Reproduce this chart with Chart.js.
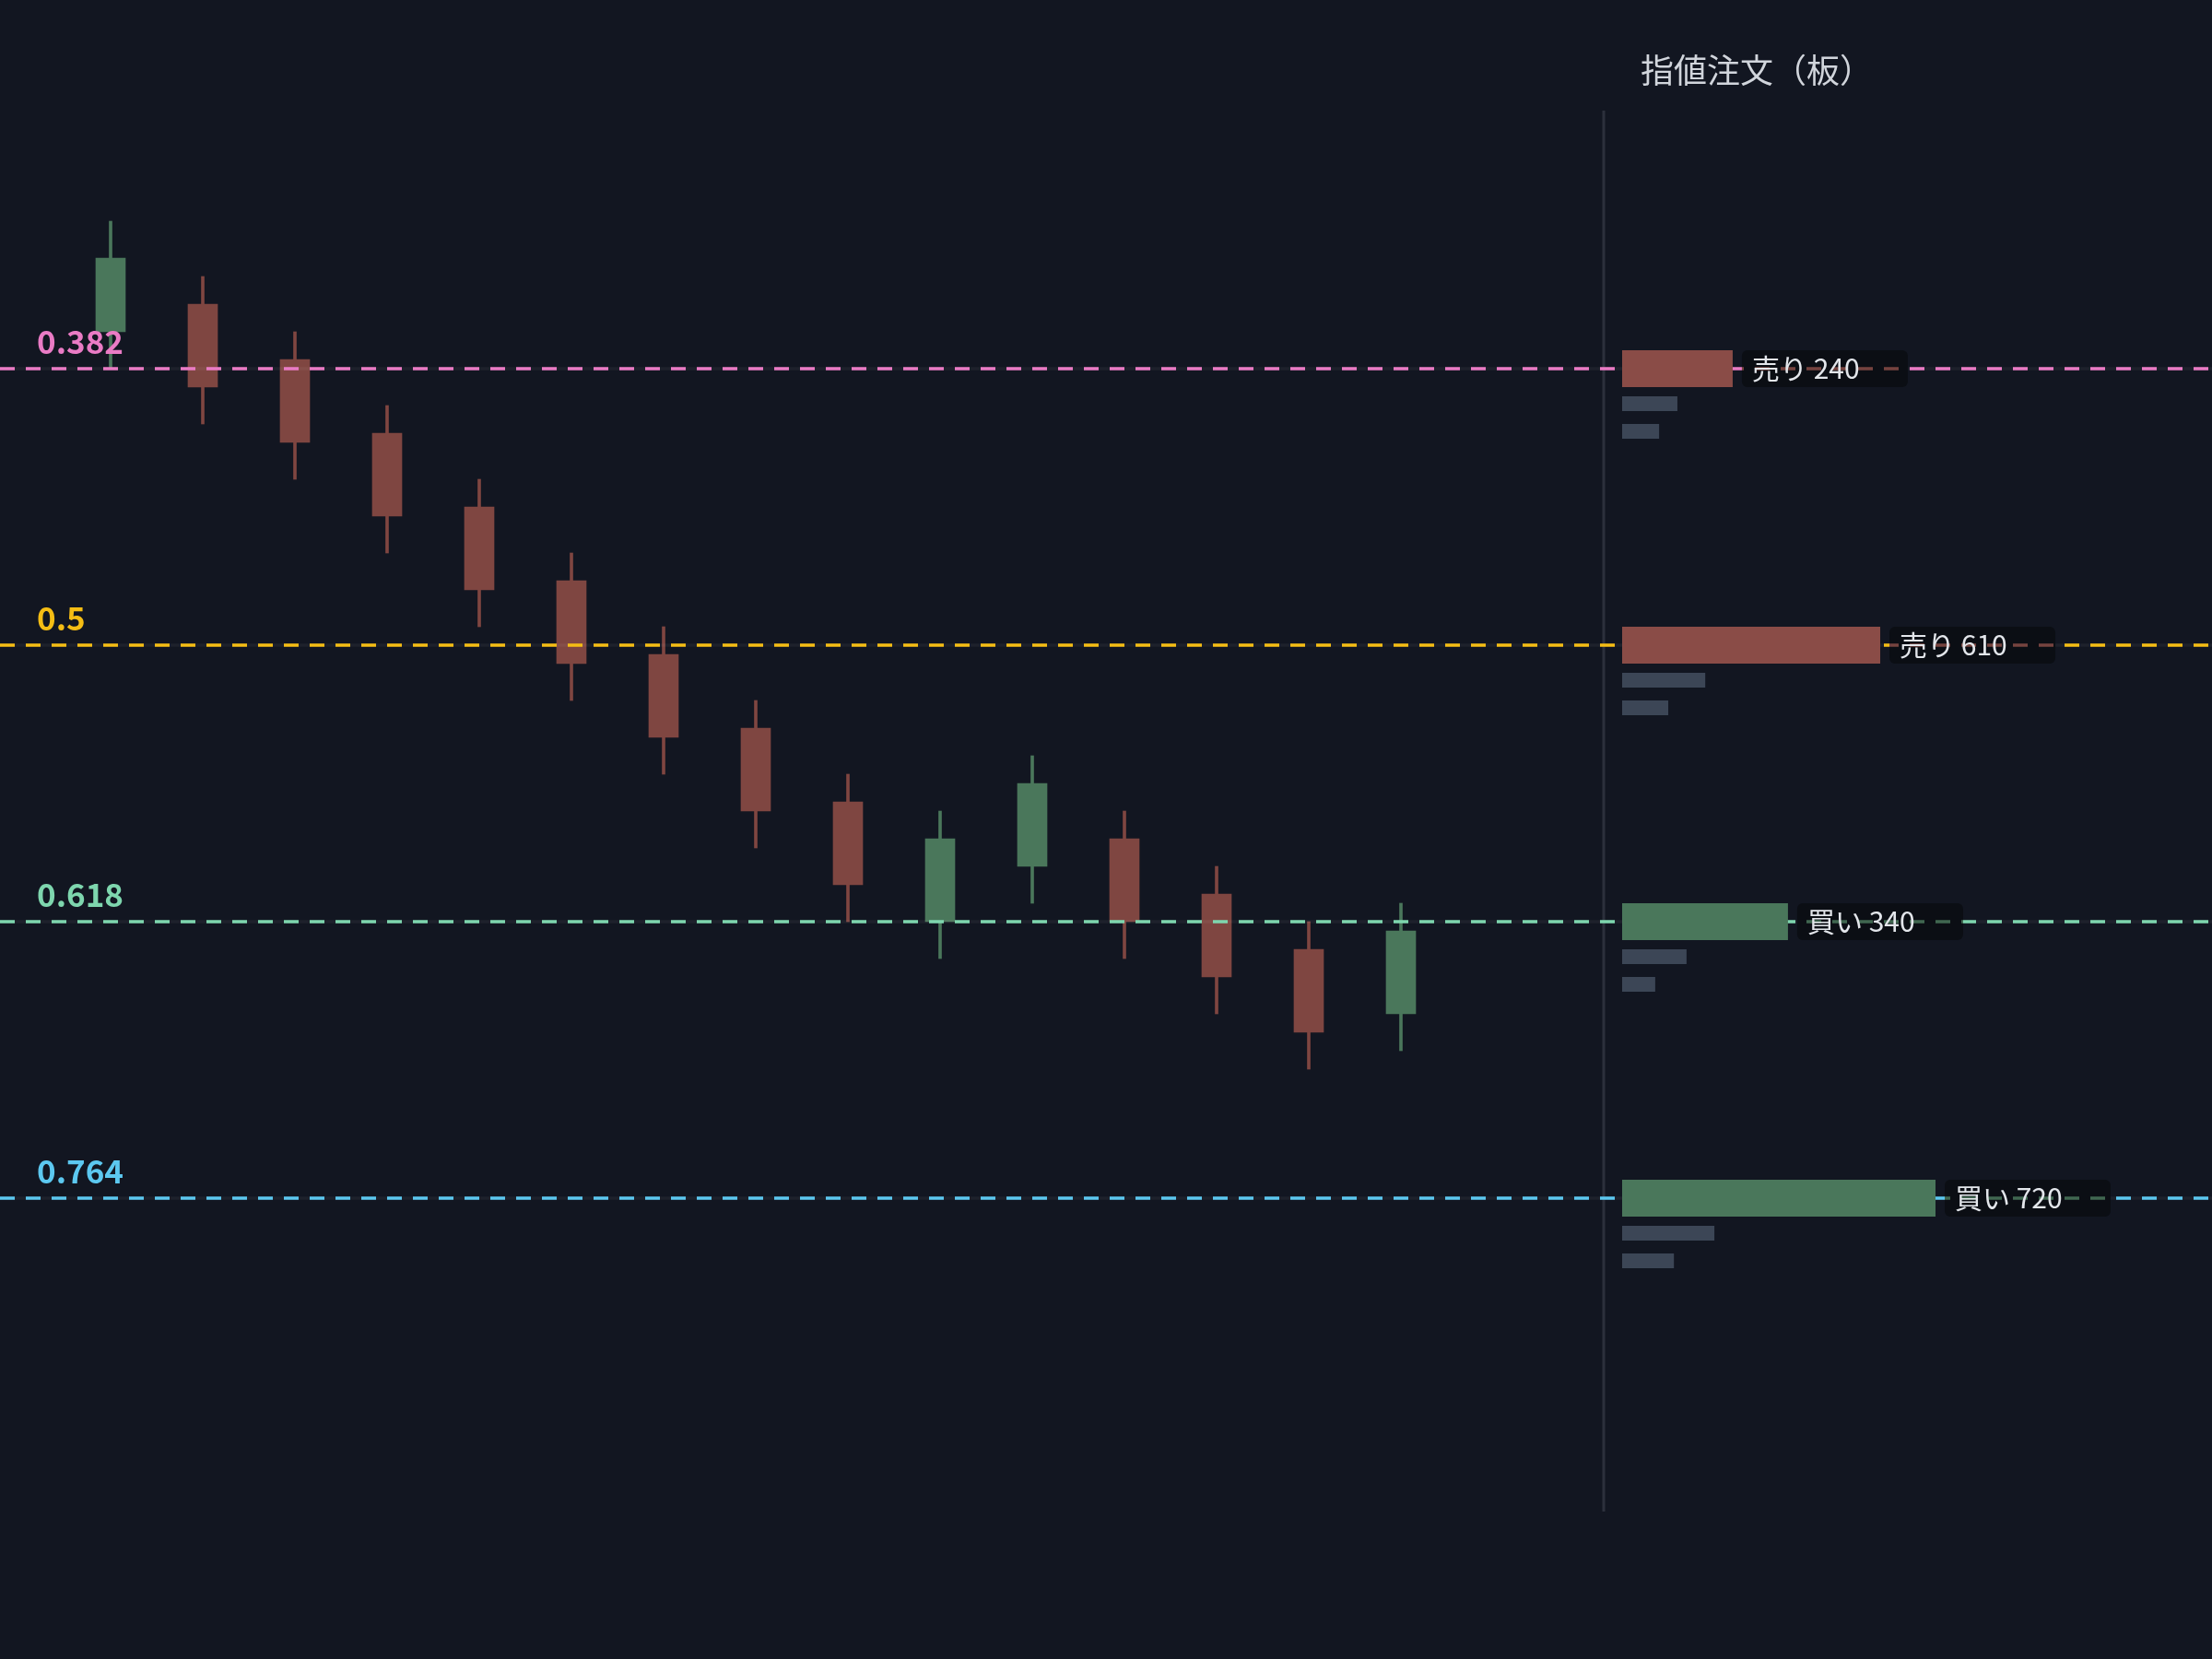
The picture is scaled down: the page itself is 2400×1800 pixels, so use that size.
<!DOCTYPE html>
<html>
<head>
<meta charset="utf-8">
<script src="https://cdn.jsdelivr.net/npm/chart.js@4.4.1/dist/chart.umd.min.js"></script>
<style>
  html, body { margin: 0; padding: 0; background: #121621; }
  canvas { display: block; }
</style>
</head>
<body>
<canvas id="chart" width="2400" height="1800"></canvas>
<script>
// candles (price units)
const opens  = [1620, 1635, 1605, 1565, 1525, 1485, 1445, 1405, 1365, 1300, 1330, 1345, 1315, 1285, 1250];
const closes = [1660, 1590, 1560, 1520, 1480, 1440, 1400, 1360, 1320, 1345, 1375, 1300, 1270, 1240, 1295];
const highs  = [1680, 1650, 1620, 1580, 1540, 1500, 1460, 1420, 1380, 1360, 1390, 1360, 1330, 1300, 1310];
const lows   = [1600, 1570, 1540, 1500, 1460, 1420, 1380, 1340, 1300, 1280, 1310, 1280, 1250, 1220, 1230];

// fibonacci levels
const fibLabels = ['0.382', '0.5', '0.618', '0.764'];
const fibPrices = [1600, 1450, 1300, 1150];

// order book (板)
const bookSides  = ['売り', '売り', '買い', '買い'];
const bookSizes  = [240, 610, 340, 720];
const bookDepth  = [254, 593, 381, 720];
const depth2     = [127, 191, 148, 212];
const depth2Px   = [1581, 1431, 1281, 1131];
const depth3     = [85, 106, 76, 119];
const depth3Px   = [1566, 1416, 1266, 1116];

const fibColors = ['#ea7bc5', '#f5bd14', '#7ed6ae', '#5cc8f0'];
const UP = '#4a775b', DOWN = '#7f4641';
const BOOK_UP = '#4a775b', BOOK_DOWN = '#8a4c47', BOOK_GREY = '#3c4656';
const JP = '"Noto Sans CJK JP", "Noto Sans", sans-serif';

// book panel sits on the right of the candle x axis
const BOOK_ORIGIN = 16.4;          // x-axis value where depth 0 sits
const DEPTH_PER_SLOT = 720 / 3.4;  // depth units per x-axis step

const candleColor = (i) => closes[i] >= opens[i] ? UP : DOWN;

const bgPlugin = {
  id: 'bg',
  beforeDraw(chart) {
    const c = chart.ctx;
    c.save();
    c.fillStyle = '#121621';
    c.fillRect(0, 0, chart.width, chart.height);
    c.restore();
  }
};

const dividerPlugin = {
  id: 'divider',
  beforeDatasetsDraw(chart) {
    const c = chart.ctx, a = chart.chartArea;
    const x = chart.scales.x.getPixelForValue(16.2);
    c.save();
    c.strokeStyle = '#2c303c';
    c.lineWidth = 3;
    c.beginPath();
    c.moveTo(x, a.top + 120);
    c.lineTo(x, a.bottom - 160);
    c.stroke();
    c.restore();
  }
};

function dashLine(c, a, y, color) {
  c.setLineDash([16, 12]);
  c.lineDashOffset = 0;
  c.strokeStyle = color;
  c.beginPath();
  c.moveTo(a.left, y);
  c.lineTo(a.right, y);
  c.stroke();
}

const overlayPlugin = {
  id: 'overlay',
  afterDatasetsDraw(chart) {
    const c = chart.ctx, a = chart.chartArea;
    const y = chart.scales.y, x = chart.scales.x;
    const depthPx = (v) => x.getPixelForValue(BOOK_ORIGIN + v / DEPTH_PER_SLOT);
    const d0 = depthPx(0);
    c.save();

    // fib lines + labels
    fibPrices.forEach((p, i) => {
      const py = y.getPixelForValue(p);
      c.setLineDash([]);
      c.lineWidth = 3.5;
      c.strokeStyle = 'rgba(255,255,255,0.05)';
      c.beginPath();
      c.moveTo(a.left, py);
      c.lineTo(a.right, py);
      c.stroke();
      dashLine(c, a, py, fibColors[i]);
      c.setLineDash([]);
      c.fillStyle = fibColors[i];
      c.font = 'bold 35px ' + JP;
      c.textBaseline = 'alphabetic';
      c.fillText(fibLabels[i], a.left + 40, py - 16);
    });

    // book bars
    bookDepth.forEach((v, i) => {
      const py = y.getPixelForValue(fibPrices[i]);
      const col = bookSides[i] === '売り' ? BOOK_DOWN : BOOK_UP;
      const x1 = depthPx(v);
      c.setLineDash([]);
      c.fillStyle = col;
      c.fillRect(d0, py - 20, x1 - d0, 40);

      c.fillStyle = BOOK_GREY;
      const g1 = y.getPixelForValue(depth2Px[i]);
      c.fillRect(d0, g1 - 8, depthPx(depth2[i]) - d0, 16);
      const g2 = y.getPixelForValue(depth3Px[i]);
      c.fillRect(d0, g2 - 8, depthPx(depth3[i]) - d0, 16);

      // label box
      const bx = x1 + 10, bw = 180, bh = 40;
      c.fillStyle = '#0b0e14';
      c.beginPath();
      c.roundRect(bx, py - bh / 2, bw, bh, 6);
      c.fill();
      c.save();
      c.beginPath();
      c.rect(bx, py - bh / 2, bw, bh);
      c.clip();
      c.lineWidth = 3.5;
      c.globalAlpha = 0.85;
      dashLine(c, a, py, col);
      c.restore();
      c.setLineDash([]);
      c.fillStyle = '#e3e6eb';
      c.font = '30px ' + JP;
      c.textBaseline = 'alphabetic';
      c.fillText(bookSides[i] + ' ' + bookSizes[i], bx + 11, py + 11);
    });

    // panel title
    c.fillStyle = '#d1d5dc';
    c.font = '36px ' + JP;
    c.fillText('指値注文（板）', 1780, 90);
    c.restore();
  }
};

new Chart(document.getElementById('chart'), {
  type: 'bar',
  data: {
    datasets: [
      {
        label: 'body',
        data: opens.map((o, i) => ({ x: i, y: [o, closes[i]] })),
        backgroundColor: (ctx) => candleColor(ctx.dataIndex),
        barThickness: 32,
        grouped: false,
        borderWidth: 0,
        order: 1
      },
      {
        label: 'wick',
        data: lows.map((l, i) => ({ x: i, y: [l, highs[i]] })),
        backgroundColor: (ctx) => candleColor(ctx.dataIndex),
        barThickness: 3,
        grouped: false,
        borderWidth: 0,
        order: 2
      }
    ]
  },
  options: {
    responsive: false,
    animation: false,
    devicePixelRatio: 1,
    layout: { padding: 0 },
    plugins: { legend: { display: false }, tooltip: { enabled: false }, title: { display: false } },
    scales: {
      x: { type: 'linear', min: -1.2, max: 22.8, offset: false, display: false },
      y: { type: 'linear', min: 900, max: 1800, display: false }
    }
  },
  plugins: [bgPlugin, dividerPlugin, overlayPlugin]
});
</script>
</body>
</html>
